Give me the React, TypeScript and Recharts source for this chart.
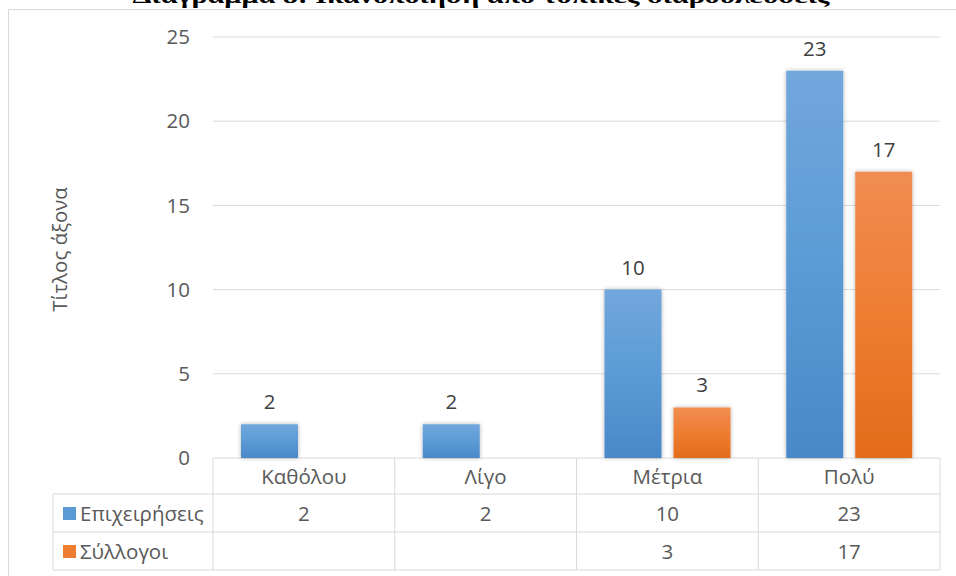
import { BarChart, Bar, XAxis, YAxis, CartesianGrid, LabelList } from "recharts";

const categories = ["Καθόλου", "Λίγο", "Μέτρια", "Πολύ"];
const businesses: (number | null)[] = [2, 2, 10, 23];
const associations: (number | null)[] = [null, null, 3, 17];
const seriesNames = ["Επιχειρήσεις", "Σύλλογοι"];
const yTicks = [0, 5, 10, 15, 20, 25];
const chartTitle = "Διάγραμμα 8: Ικανοποίηση από τοπικές διαβουλεύσεις";
const axisTitle = "Τίτλος άξονα";

const data = categories.map((name, i) => ({
  name,
  businesses: businesses[i],
  associations: associations[i],
}));

const W = 956;
const H = 576;
const margin = { top: 37, right: 16, bottom: 0, left: 153 };
const xAxisHeight = 118;
const yAxisWidth = 60;
const FONT = "'Open Sans', sans-serif";
const FS = 20.5;
const LINE = "#d9d9d9";
const TEXT = "#595959";
const rows = [36, 38, 38];
const labelColWidth = 160;
const swatch = ["#5b9bd5", "#ed7d31"];

const TableTick = (props: any) => {
  const { x, y, index } = props;
  const plotWidth = props.width || W - margin.left - margin.right - yAxisWidth;
  const band = plotWidth / categories.length;
  const left = x - band / 2;
  const right = x + band / 2;
  const y0 = y;
  const y1 = y0 + rows[0];
  const y2 = y1 + rows[1];
  const y3 = y2 + rows[2];
  const vals = [businesses[index], associations[index]];
  const last = index === categories.length - 1;
  const lx = left - labelColWidth;

  return (
    <g fontFamily={FONT} fontSize={FS} fill={TEXT}>
      <line x1={left} x2={left} y1={y0} y2={y3} stroke={LINE} />
      {last && <line x1={right} x2={right} y1={y0} y2={y3} stroke={LINE} />}
      {[y1, y2, y3].map((ly) => (
        <line key={ly} x1={left} x2={right} y1={ly} y2={ly} stroke={LINE} />
      ))}
      <text x={x} y={(y0 + y1) / 2} textAnchor="middle" dominantBaseline="central">
        {categories[index]}
      </text>
      <text x={x} y={(y1 + y2) / 2} textAnchor="middle" dominantBaseline="central">
        {vals[0] ?? ""}
      </text>
      <text x={x} y={(y2 + y3) / 2} textAnchor="middle" dominantBaseline="central">
        {vals[1] ?? ""}
      </text>
      {index === 0 && (
        <g>
          <line x1={lx} x2={lx} y1={y1} y2={y3} stroke={LINE} />
          {[y1, y2, y3].map((ly) => (
            <line key={ly} x1={lx} x2={left} y1={ly} y2={ly} stroke={LINE} />
          ))}
          {seriesNames.map((s, i) => {
            const cy = i === 0 ? (y1 + y2) / 2 : (y2 + y3) / 2;
            return (
              <g key={s}>
                <rect x={lx + 10} y={cy - 6} width={13} height={13} fill={swatch[i]} />
                <text x={lx + 27} y={cy} dominantBaseline="central">
                  {s}
                </text>
              </g>
            );
          })}
        </g>
      )}
    </g>
  );
};

const AxisTitle = (props: any) => {
  const vb = props.viewBox || { x: margin.left, y: margin.top, width: yAxisWidth, height: 421 };
  const cx = vb.x - 94;
  const cy = vb.y + vb.height / 2 + 2;
  return (
    <text
      x={cx}
      y={cy}
      transform={`rotate(-90 ${cx} ${cy})`}
      textAnchor="middle"
      dominantBaseline="central"
      fontFamily={FONT}
      fontSize={FS}
      fill={TEXT}
    >
      {axisTitle}
    </text>
  );
};

export default function App() {
  return (
    <div style={{ position: "absolute", left: 0, top: 0, width: W, height: H, background: "#fff" }}>
      <BarChart
        width={W}
        height={H}
        data={data}
        margin={margin}
        barSize={57}
        barGap={12}
        style={{ overflow: "visible" }}
      >
        <defs>
          <linearGradient id="gBlue" x1="0" y1="0" x2="0" y2="1">
            <stop offset="0%" stopColor="#72a7dc" />
            <stop offset="50%" stopColor="#5b9bd5" />
            <stop offset="100%" stopColor="#4a88c8" />
          </linearGradient>
          <linearGradient id="gOrange" x1="0" y1="0" x2="0" y2="1">
            <stop offset="0%" stopColor="#f18d52" />
            <stop offset="50%" stopColor="#ee7d32" />
            <stop offset="100%" stopColor="#e36c1b" />
          </linearGradient>
          <filter id="shadow" x="-30%" y="-10%" width="160%" height="120%">
            <feDropShadow dx="0" dy="0" stdDeviation="2" floodColor="#000" floodOpacity="0.3" />
          </filter>
        </defs>
        <rect x={8.5} y={9.5} width={980} height={600} fill="none" stroke={LINE} />
        <text
          x={481}
          y={3}
          textAnchor="middle"
          fontFamily="'Liberation Serif', serif"
          fontWeight="bold"
          fontSize={20}
          fill="#000"
          textLength={697}
          lengthAdjust="spacingAndGlyphs"
        >
          {chartTitle}
        </text>
        <CartesianGrid vertical={false} stroke={LINE} />
        <XAxis
          dataKey="name"
          axisLine={false}
          tickLine={false}
          tickSize={0}
          tickMargin={0}
          height={xAxisHeight}
          interval={0}
          tick={<TableTick />}
        />
        <YAxis
          width={yAxisWidth}
          domain={[0, 25]}
          ticks={yTicks}
          axisLine={false}
          tickLine={false}
          tickSize={0}
          tickMargin={23}
          tick={{ fontFamily: FONT, fontSize: FS, fill: TEXT }}
          label={<AxisTitle />}
        />
        <Bar dataKey="businesses" name={seriesNames[0]} fill="url(#gBlue)" filter="url(#shadow)" isAnimationActive={false}>
          <LabelList dataKey="businesses" position="top" offset={15} fill="#404040" fontFamily={FONT} fontSize={FS} />
        </Bar>
        <Bar dataKey="associations" name={seriesNames[1]} fill="url(#gOrange)" filter="url(#shadow)" isAnimationActive={false}>
          <LabelList dataKey="associations" position="top" offset={15} fill="#404040" fontFamily={FONT} fontSize={FS} />
        </Bar>
      </BarChart>
    </div>
  );
}
